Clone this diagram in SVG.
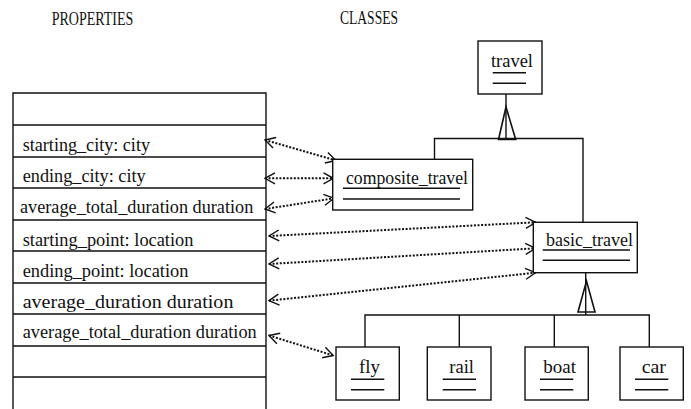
<svg xmlns="http://www.w3.org/2000/svg" width="691" height="409" viewBox="0 0 691 409">
<style>
  .t { font-family: "Liberation Serif", "Times New Roman", Times, "DejaVu Serif", serif; font-size: 18px; fill: #111; }
  .ln { stroke: #111; stroke-width: 1.4; fill: none; }
  .box { stroke: #111; stroke-width: 1.4; fill: #fff; }
  .ul { stroke: #111; stroke-width: 1.4; }
  .dot { stroke: #111; stroke-width: 2; stroke-dasharray: 2 1.6; fill: none; marker-start: url(#v); marker-end: url(#v); }
  .tri { stroke: #111; stroke-width: 1.6; fill: none; }
</style>
<defs>
  <marker id="v" viewBox="-12 -7 13 14" refX="0" refY="0" markerWidth="13" markerHeight="14" markerUnits="userSpaceOnUse" orient="auto-start-reverse">
    <path d="M-10,-5.5 L0,0 L-10,5.5" fill="none" stroke="#111" stroke-width="1.4"/>
  </marker>
</defs>
<rect width="691" height="409" fill="#fff"/>

<g id="headers" class="t">
  <text x="51.7" y="25" textLength="81.6" lengthAdjust="spacingAndGlyphs">PROPERTIES</text>
  <text x="340" y="24" textLength="58" lengthAdjust="spacingAndGlyphs">CLASSES</text>
</g>

<g id="properties">
  <path class="ln" d="M13,409 V93 H266 V409"/>
  <path class="ln" d="M13,125 H266 M13,157 H266 M13,188 H266 M13,220 H266 M13,251 H266 M13,283 H266 M13,314 H266 M13,346 H266 M13,377 H266"/>
  <g class="t">
    <text x="22.7" y="150.7" textLength="127.3" lengthAdjust="spacingAndGlyphs">starting_city: city</text>
    <text x="22.7" y="181.7" textLength="123" lengthAdjust="spacingAndGlyphs">ending_city: city</text>
    <text x="20" y="212.7" textLength="233.3" lengthAdjust="spacingAndGlyphs">average_total_duration duration</text>
    <text x="22.7" y="245.7" textLength="170.7" lengthAdjust="spacingAndGlyphs">starting_point: location</text>
    <text x="22.7" y="276.7" textLength="165.7" lengthAdjust="spacingAndGlyphs">ending_point: location</text>
    <text x="22.7" y="308.3" textLength="210.7" lengthAdjust="spacingAndGlyphs">average_duration duration</text>
    <text x="22.7" y="337.7" textLength="234" lengthAdjust="spacingAndGlyphs">average_total_duration duration</text>
  </g>
</g>

<g id="connectors">
  <path class="ln" d="M506,94 V139.5"/>
  <path class="tri" d="M506,107 L515.7,139.5 L498.5,139.5 Z"/>
  <path class="ln" d="M434.5,159.3 V138.5 H583 V222.3"/>
  <path class="ln" d="M585.7,272.7 V315"/>
  <path class="tri" d="M586.5,281 L595,312 L578,312 Z"/>
  <path class="ln" d="M365,347 V315 H649.3 V347 M459.3,315 V347 M554.3,315 V347"/>
  <path class="dot" d="M265,140 L336,160.5"/>
  <path class="dot" d="M265,178.3 L333.5,178.3"/>
  <path class="dot" d="M265,209 L334,198.3"/>
  <path class="dot" d="M269,236 L535.7,222.3"/>
  <path class="dot" d="M269,264 L535.5,248.3"/>
  <path class="dot" d="M269,300.7 L535.5,272.7"/>
  <path class="dot" d="M269,335.5 L333.3,355.5"/>
</g>

<g id="travel" class="t">
  <rect class="box" x="478" y="41" width="64" height="53"/>
  <text x="491" y="66.5" textLength="42" lengthAdjust="spacingAndGlyphs">travel</text>
  <path class="ul" d="M492.7,72.7 H526 M492.7,83.3 H526"/>
</g>

<g id="composite_travel" class="t">
  <rect class="box" x="332.7" y="159.3" width="140" height="50.7"/>
  <text x="346" y="184" textLength="122" lengthAdjust="spacingAndGlyphs">composite_travel</text>
  <path class="ul" d="M343,188.3 H460 M343,199 H460"/>
</g>

<g id="basic_travel" class="t">
  <rect class="box" x="533.3" y="222.3" width="104" height="50.4"/>
  <text x="546" y="245.7" textLength="87" lengthAdjust="spacingAndGlyphs">basic_travel</text>
  <path class="ul" d="M542.7,250 H630 M542.7,260.3 H630"/>
</g>

<g id="fly" class="t">
  <rect class="box" x="336" y="347" width="63.3" height="53"/>
  <text x="359" y="373" textLength="21" lengthAdjust="spacingAndGlyphs">fly</text>
  <path class="ul" d="M351,379.3 H384.3 M351,389.7 H384.3"/>
</g>

<g id="rail" class="t">
  <rect class="box" x="427.3" y="347" width="63.7" height="53"/>
  <text x="449.3" y="373" textLength="24.7" lengthAdjust="spacingAndGlyphs">rail</text>
  <path class="ul" d="M442.7,379.3 H476 M442.7,389.7 H476"/>
</g>

<g id="boat" class="t">
  <rect class="box" x="525" y="347" width="63.3" height="53"/>
  <text x="543.3" y="373" textLength="32.7" lengthAdjust="spacingAndGlyphs">boat</text>
  <path class="ul" d="M540,379.3 H573.3 M540,389.7 H573.3"/>
</g>

<g id="car" class="t">
  <rect class="box" x="620" y="347" width="63.3" height="53"/>
  <text x="641.7" y="373" textLength="24.3" lengthAdjust="spacingAndGlyphs">car</text>
  <path class="ul" d="M635,379.3 H668.3 M635,389.7 H668.3"/>
</g>
</svg>
